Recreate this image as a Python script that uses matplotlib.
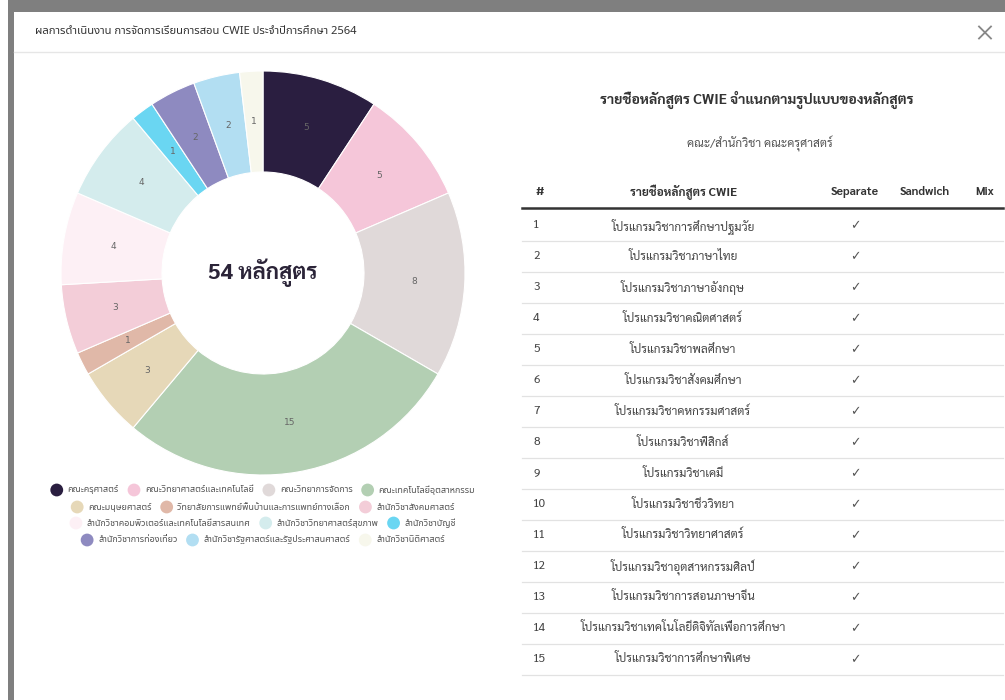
import matplotlib
matplotlib.use('Agg')
import matplotlib.pyplot as plt
from matplotlib import font_manager as fm
from matplotlib.patches import Rectangle
import numpy as np

# data
faculties = [
    'คณะครุศาสตร์', 'คณะวิทยาศาสตร์และเทคโนโลยี', 'คณะวิทยาการจัดการ',
    'คณะเทคโนโลยีอุตสาหกรรม', 'คณะมนุษยศาสตร์',
    'วิทยาลัยการแพทย์พื้นบ้านและการแพทย์ทางเลือก', 'สำนักวิชาสังคมศาสตร์',
    'สำนักวิชาคอมพิวเตอร์และเทคโนโลยีสารสนเทศ', 'สำนักวิชาวิทยาศาสตร์สุขภาพ',
    'สำนักวิชาบัญชี', 'สำนักวิชาการท่องเที่ยว',
    'สำนักวิชารัฐศาสตร์และรัฐประศาสนศาสตร์', 'สำนักวิชานิติศาสตร์',
]
counts = [5, 5, 8, 15, 3, 1, 3, 4, 4, 1, 2, 2, 1]
legend_rows = [[0, 1, 2, 3], [4, 5, 6], [7, 8, 9], [10, 11, 12]]

programs = [
    'โปรแกรมวิชาการศึกษาปฐมวัย', 'โปรแกรมวิชาภาษาไทย', 'โปรแกรมวิชาภาษาอังกฤษ',
    'โปรแกรมวิชาคณิตศาสตร์', 'โปรแกรมวิชาพลศึกษา', 'โปรแกรมวิชาสังคมศึกษา',
    'โปรแกรมวิชาคหกรรมศาสตร์', 'โปรแกรมวิชาฟิสิกส์', 'โปรแกรมวิชาเคมี',
    'โปรแกรมวิชาชีววิทยา', 'โปรแกรมวิชาวิทยาศาสตร์', 'โปรแกรมวิชาอุตสาหกรรมศิลป์',
    'โปรแกรมวิชาการสอนภาษาจีน', 'โปรแกรมวิชาเทคโนโลยีดิจิทัลเพื่อการศึกษา',
    'โปรแกรมวิชาการศึกษาพิเศษ',
]
program_type = ['Separate'] * 15
type_cols = ['Separate', 'Sandwich', 'Mix']

colors = ['#2a1e40', '#f5c6d9', '#e0d9d9', '#b3cfb3', '#e6d8b8', '#e0b8a8',
          '#f3cdd8', '#fdf0f5', '#d4eced', '#6ad6f2', '#8e8ac0', '#b2def2',
          '#f7f7ec']

available = {f.name for f in fm.fontManager.ttflist}


def pick(*names):
    for n in names:
        if n in available:
            return [n, 'DejaVu Sans']
    return ['DejaVu Sans']


f_loop = pick('Sarabun', 'Noto Sans Thai Looped', 'Noto Sans Thai', 'Bai Jamjuree')
f_plain = pick('Noto Sans Thai', 'Noto Sans Thai UI', 'Sarabun', 'Bai Jamjuree')

W, H = 1005, 700
fig = plt.figure(figsize=(W / 100, H / 100), dpi=100)
bg = fig.add_axes([0, 0, 1, 1])
bg.set_xlim(0, W)
bg.set_ylim(H, 0)
bg.axis('off')

# page backdrop and modal
bg.add_patch(Rectangle((8, 0), W - 8, 12, color='#7f7f7f', lw=0))
bg.add_patch(Rectangle((8, 0), 5.5, H, color='#7f7f7f', lw=0))
bg.plot([14, W], [52, 52], color='#e6e6e6', lw=1)
bg.text(35, 32, 'ผลการดำเนินงาน การจัดการเรียนการสอน CWIE ประจำปีการศึกษา 2564',
        family=f_plain, fontsize=8.1, color='#333333', va='center', weight='medium')
# close button
bg.plot([979, 991], [26.5, 38.5], color='#888888', lw=1.3)
bg.plot([979, 991], [38.5, 26.5], color='#888888', lw=1.3)

# donut
cx, cy, R = 263, 273, 202
pax = fig.add_axes([(cx - R) / W, (H - cy - R) / H, 2 * R / W, 2 * R / H])
wedges, _ = pax.pie(counts, colors=colors, startangle=90, counterclock=False,
                    radius=1.0, wedgeprops=dict(width=0.5, edgecolor='white', linewidth=0.8))
for w, c in zip(wedges, counts):
    ang = np.deg2rad((w.theta1 + w.theta2) / 2)
    pax.text(0.75 * np.cos(ang), 0.75 * np.sin(ang), str(c), ha='center', va='center',
             fontsize=6.5, color='#666666', family='DejaVu Sans')
pax.text(0, 0, '%d หลักสูตร' % sum(counts), ha='center', va='center', fontsize=16,
         weight='bold', color='#2b2438', family=f_loop)
pax.set_xlim(-1, 1)
pax.set_ylim(-1, 1)
pax.set_aspect('equal')
pax.axis('off')

# legend rows (centered flow layout)
fig.canvas.draw()
rend = fig.canvas.get_renderer()
leg_y = [490, 507, 523, 540]
for row, y in zip(legend_rows, leg_y):
    texts = [bg.text(0, y, faculties[i], fontsize=6.5, color='#555555', va='center',
                     family=f_plain) for i in row]
    widths = [t.get_window_extent(renderer=rend).width for t in texts]
    mk, gap_m, gap_i = 12, 5, 9
    total = sum(mk + gap_m + w for w in widths) + gap_i * (len(row) - 1)
    x = cx - total / 2
    for i, t, w in zip(row, texts, widths):
        bg.scatter([x + mk / 2], [y], s=85, color=colors[i], edgecolors='none')
        t.set_x(x + mk + gap_m)
        x += mk + gap_m + w + gap_i

# table
bg.text(757, 100, 'รายชื่อหลักสูตร CWIE จำแนกตามรูปแบบของหลักสูตร', family=f_loop,
        fontsize=10.2, weight='bold', color='#333333', ha='center', va='center')
bg.text(760, 144, 'คณะ/สำนักวิชา ' + faculties[0], family=f_loop, fontsize=8.5,
        color='#555555', ha='center', va='center')
col_x = {'Separate': 855, 'Sandwich': 925, 'Mix': 985}
hy = 192
bg.text(535, hy, '#', family=f_loop, fontsize=8.5, weight='bold', color='#333333', va='center')
bg.text(683, hy, 'รายชื่อหลักสูตร CWIE', family=f_loop, fontsize=8.5, weight='bold',
        color='#333333', ha='center', va='center')
for c in type_cols:
    bg.text(col_x[c], hy, c, family=f_loop, fontsize=8.5, weight='bold', color='#333333',
            ha='center', va='center')
bg.plot([522, 1003], [208, 208], color='#333333', lw=1.8)
row_h = 30.95
for k, (p, t) in enumerate(zip(programs, program_type)):
    y = 226 + k * row_h
    bg.text(533, y, str(k + 1), family=f_loop, fontsize=8.5, color='#444444', va='center')
    bg.text(683, y, p, family=f_loop, fontsize=8.5, color='#444444', ha='center', va='center')
    bg.text(col_x[t], y, '✓', family='DejaVu Sans', fontsize=9, color='#555555',
            ha='center', va='center')
    bg.plot([522, 1003], [y + row_h / 2, y + row_h / 2], color='#e2e2e2', lw=0.9)

fig.savefig('out.png', dpi=100, facecolor='white')
